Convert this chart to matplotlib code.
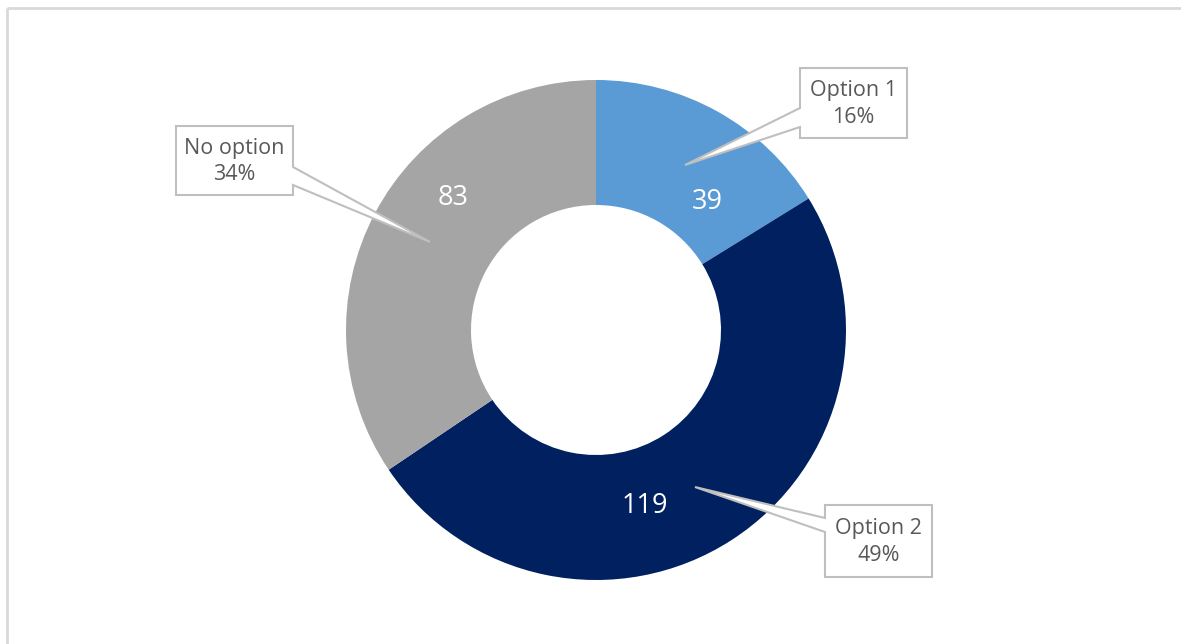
import numpy as np
import matplotlib.pyplot as plt
from matplotlib.patches import Polygon

# Données
labels = ["Option 1", "Option 2", "No option"]
values = [39, 119, 83]
colors = ["#5B9BD5", "#002060", "#A5A5A5"]

# positions des étiquettes (angle en degrés, rayon relatif)
label_pos = [(49, 0.68), (-74.4, 0.73), (137.3, 0.78)]
# encadrés : (x0, y0, x1, y1), base de la pointe (côté, ya, yb), pointe
callouts = [
    ((800, 68, 907, 138), ("left", 108, 127), (685, 165)),
    ((825, 505, 932, 577), ("left", 518, 532), (695, 487)),
    ((176, 126, 293, 195), ("right", 167, 185), (430, 242)),
]

W, H = 1181, 644
fig = plt.figure(figsize=(W / 100, H / 100), dpi=100)
plt.rcParams['font.family'] = ['Open Sans', 'DejaVu Sans']

# Donut
cx, cy, R = 596, 330, 250
ax = fig.add_axes([(cx - R) / W, (H - cy - R) / H, 2 * R / W, 2 * R / H])
wedges, _ = ax.pie(values, colors=colors, startangle=90, counterclock=False,
                   wedgeprops=dict(width=0.5, linewidth=0))
ax.set_xlim(-1, 1)
ax.set_ylim(-1, 1)
ax.set_aspect("equal")
ax.axis("off")

for v, (ang, r) in zip(values, label_pos):
    a = np.deg2rad(ang)
    ax.text(r * np.cos(a), r * np.sin(a), str(v), color="white",
            fontsize=19.5, ha="center", va="center")

# Calque en pixels pour le cadre et les encadrés
ov = fig.add_axes([0, 0, 1, 1], zorder=5)
ov.set_xlim(0, W)
ov.set_ylim(H, 0)
ov.axis("off")
ov.patch.set_alpha(0)

ov.plot([7, 7], [H, 8], color="#D9D9D9", lw=2, solid_capstyle="butt")
ov.plot([7, W], [8, 8], color="#D9D9D9", lw=2, solid_capstyle="butt")

total = sum(values)
for lab, v, (box, (side, ya, yb), tip) in zip(labels, values, callouts):
    x0, y0, x1, y1 = box
    if side == "left":
        pts = [(x0, y0), (x1, y0), (x1, y1), (x0, y1), (x0, yb), tip, (x0, ya)]
    else:
        pts = [(x0, y0), (x1, y0), (x1, ya), tip, (x1, yb), (x1, y1), (x0, y1)]
    ov.add_patch(Polygon(pts, closed=True, facecolor="white",
                         edgecolor="#BFBFBF", lw=1.5))
    pct = round(100 * v / total)
    ov.text((x0 + x1) / 2, (y0 + y1) / 2 + 1, f"{lab}\n{pct}%", color="#595959",
            fontsize=15.5, ha="center", va="center", linespacing=1.35)

fig.savefig("out.png", dpi=100)
